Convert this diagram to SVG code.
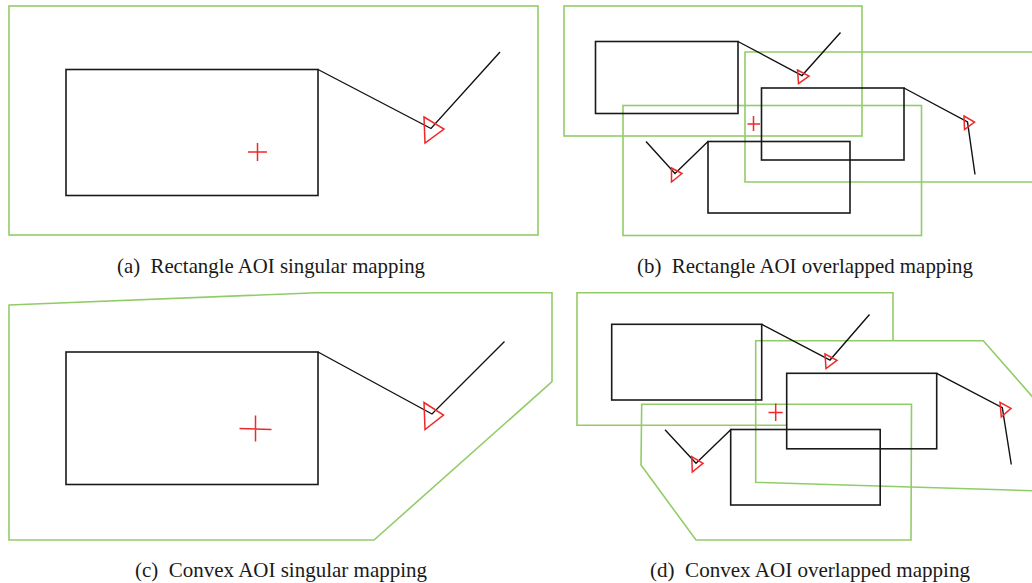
<svg xmlns="http://www.w3.org/2000/svg" width="1032" height="583" viewBox="0 0 1032 583">
<style>
.aoi{fill:none;stroke:#92cc68;stroke-width:1.6}
.box{fill:none;stroke:#1a1a1a;stroke-width:1.6}
.path{fill:none;stroke:#111;stroke-width:1.4}
.fix{fill:none;stroke:#f02828;stroke-width:1.5}
.cap{font-family:"Liberation Serif",serif;font-size:21px;fill:#1a1a1a}
</style>
<rect width="1032" height="583" fill="#fff"/>
<g id="panel-a">
  <rect class="aoi" x="9" y="6" width="529" height="229"/>
  <rect class="box" x="66" y="69.5" width="252" height="126"/>
  <g id="connectors-a"><polyline class="path" points="318,69.5 431,128.5 500,52"/></g>
  <polygon class="fix" points="424,117 444,129 425,143"/>
  <path class="fix" d="M248,152H267M257.5,143V161"/>
  <text class="cap" x="117" y="273" textLength="308" lengthAdjust="spacingAndGlyphs">(a)&#160; Rectangle AOI singular mapping</text>
</g>
<g id="panel-b">
  <rect class="aoi" x="564" y="6" width="298" height="130"/>
  <polyline class="aoi" points="1034,52 745,52 745,182 1034,182"/>
  <rect class="aoi" x="623" y="105.5" width="298.5" height="130"/>
  <rect class="box" x="595.5" y="41.5" width="142.5" height="72"/>
  <rect class="box" x="761.5" y="88" width="142.5" height="72"/>
  <rect class="box" x="708" y="141.5" width="142" height="71.5"/>
  <g id="connectors-b">
    <polyline class="path" points="738,41.5 802,75.5 840.5,32.5"/>
    <polyline class="path" points="904,88 967.5,122 975,174.5"/>
    <polyline class="path" points="646,141.5 675,173.5 708,141.5"/>
  </g>
  <polygon class="fix" points="797.5,70 809,76 798.5,83.5"/>
  <polygon class="fix" points="964,116 974.5,122 964.5,129.5"/>
  <polygon class="fix" points="671.5,168 682,173.5 671.5,182"/>
  <path class="fix" d="M747.5,124H760M753.5,116V131"/>
  <text class="cap" x="637" y="273" textLength="336" lengthAdjust="spacingAndGlyphs">(b)&#160; Rectangle AOI overlapped mapping</text>
</g>
<g id="panel-c">
  <polygon class="aoi" points="9,305 317,292.7 552,292.7 552,381.7 374,540 9,540"/>
  <rect class="box" x="66" y="352" width="252" height="132.5"/>
  <g id="connectors-c"><polyline class="path" points="318,352 432,414 504.5,341.5"/></g>
  <polygon class="fix" points="424,402.5 443.5,415 425,429.5"/>
  <path class="fix" d="M239.5,428.5L271.5,429.5M255.5,415.5V441.5"/>
  <text class="cap" x="135" y="577" textLength="292" lengthAdjust="spacingAndGlyphs">(c)&#160; Convex AOI singular mapping</text>
</g>
<g id="panel-d">
  <polyline class="aoi" points="787,425.3 577,425.3 577,292.7 893,292.7 893,340.7"/>
  <polyline class="aoi" points="1034,398.5 983.3,340.7 755.7,340.7 755.7,482.3 1034,490.8"/>
  <polygon class="aoi" points="641.7,404.3 911.5,404.3 911,540 696,540 641,465"/>
  <rect class="box" x="611.7" y="324.3" width="150" height="75.7"/>
  <rect class="box" x="786.7" y="373.3" width="150" height="75.5"/>
  <rect class="box" x="730.7" y="429.5" width="149.5" height="75.5"/>
  <g id="connectors-d">
    <polyline class="path" points="761.7,324.3 830,360 869.5,314.5"/>
    <polyline class="path" points="936.7,373.3 1002.3,407.7 1011.3,464.5"/>
    <polyline class="path" points="665,429.7 696,463.3 730.7,429.7"/>
  </g>
  <polygon class="fix" points="825,354 837,360.3 826,368.5"/>
  <polygon class="fix" points="1000,402.3 1011,408.3 1001.3,417"/>
  <polygon class="fix" points="691.7,456.7 703,463.3 692.3,472"/>
  <path class="fix" d="M768.5,412.5H782.7M775.7,403.5V421"/>
  <text class="cap" x="650" y="577" textLength="320" lengthAdjust="spacingAndGlyphs">(d)&#160; Convex AOI overlapped mapping</text>
</g>
</svg>
